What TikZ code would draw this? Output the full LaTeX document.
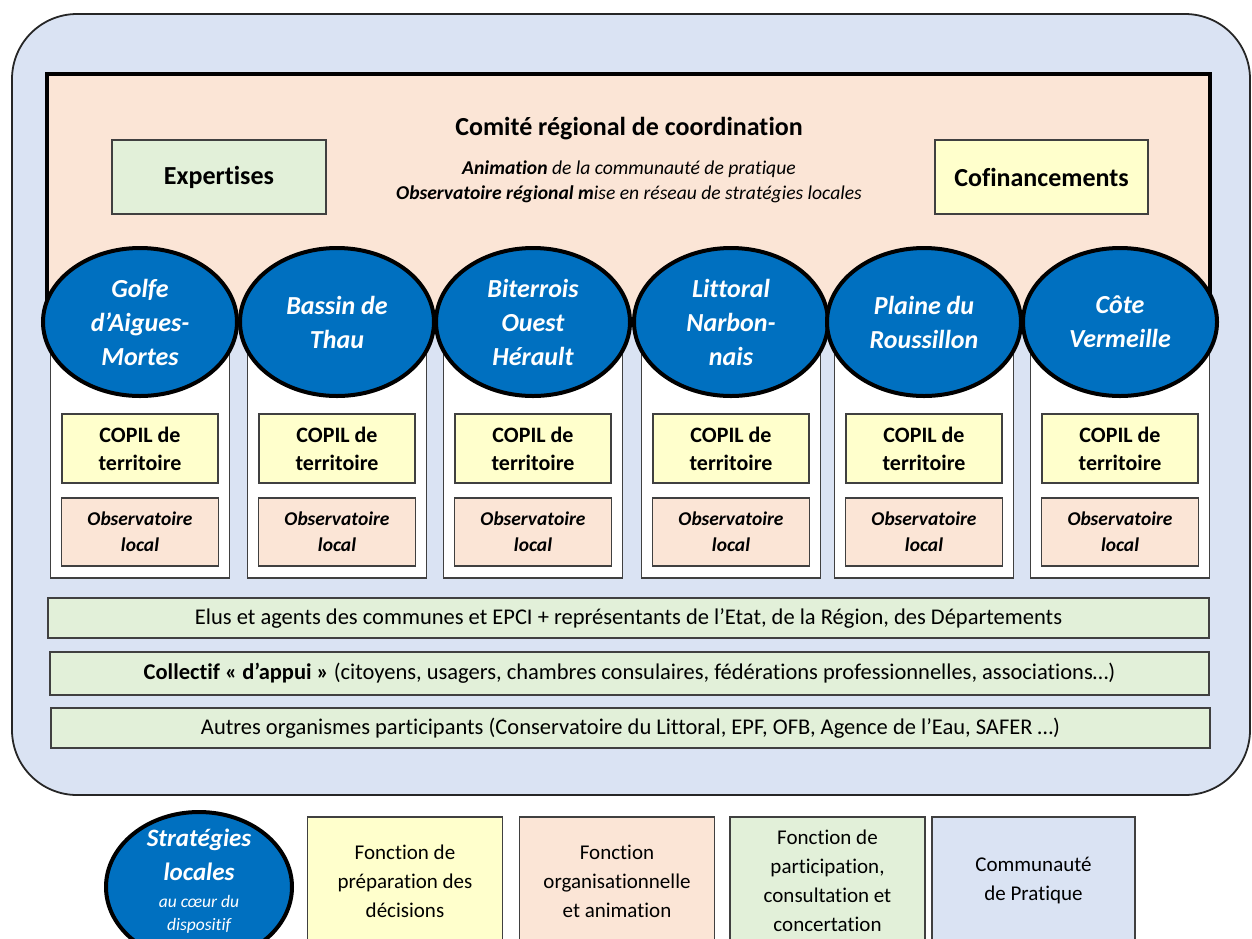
\documentclass[tikz,border=0pt]{standalone}
\usepackage{fontspec}
\setmainfont{Carlito}[Ligatures=NoCommon]
\usetikzlibrary{shapes.geometric}
\definecolor{cpblue}{HTML}{DAE3F3}
\definecolor{peach}{HTML}{FBE5D6}
\definecolor{lgreen}{HTML}{E2F0D9}
\definecolor{lyellow}{HTML}{FFFFCC}
\definecolor{ellblue}{HTML}{0070C0}
\definecolor{edgegray}{HTML}{404040}
\begin{document}
\begin{tikzpicture}[x=1pt,y=-1pt,
  fbox/.style={rectangle, draw=edgegray, line width=1.3pt, inner sep=0pt, align=center},
  ell/.style={ellipse, draw=black, line width=4pt, fill=ellblue, minimum width=194pt,
    minimum height=148pt, inner sep=0pt, text=white, align=center,
    font=\fontsize{26}{34}\selectfont\bfseries\itshape},
  colbox/.style={fbox, fill=white, minimum width=179pt, minimum height=248pt},
  copilbox/.style={fbox, fill=lyellow, minimum width=156pt, minimum height=69pt,
    font=\fontsize{22}{28}\selectfont\bfseries},
  obsbox/.style={fbox, fill=peach, minimum width=157pt, minimum height=68pt,
    font=\fontsize{19.5}{26}\selectfont\bfseries\itshape},
  barbox/.style={fbox, fill=lgreen, font=\fontsize{22.5}{27}\selectfont},
  legbox/.style={fbox, minimum width=195pt, minimum height=128pt,
    font=\fontsize{21}{29}\selectfont},
  txt/.style={inner sep=0pt, align=center}
]
\useasboundingbox (0,0) rectangle (1252,938);
\clip (0,0) rectangle (1252,938);

% outer community frame
\node[rectangle, draw=black!85, line width=1.8pt, fill=cpblue, rounded corners=65pt,
  minimum width=1238pt, minimum height=781pt] (outer) at (631,404.5) {};

% regional committee
\node[rectangle, draw=black, line width=4pt, fill=peach,
  minimum width=1163pt, minimum height=247pt] (comite) at (628.5,197.5) {};
\node[txt, font=\fontsize{26}{30}\selectfont\bfseries] (titre) at (629,129)
  {Comité régional de coordination};
\node[txt, font=\fontsize{19.6}{25}\selectfont\itshape] (soustitre) at (629,181.5)
  {\textbf{Animation} de la communauté de pratique\\
   \textbf{Observatoire régional m}ise en réseau de stratégies locales};
\node[fbox, fill=lgreen, minimum width=214pt, minimum height=74pt,
  font=\fontsize{26}{30}\selectfont\bfseries] (expert) at (219,177) {Expertises};
\node[fbox, fill=lyellow, minimum width=213pt, minimum height=74pt,
  font=\fontsize{26}{30}\selectfont\bfseries] (cofin) at (1041.5,177) {Cofinancements};

% territory columns
\foreach \cx/\i in {140/1,337/2,533/3,731/4,924/5,1120/6}{
  \node[colbox] (col\i) at (\cx,454) {};
  \node[copilbox] (copil\i) at (\cx,448.5) {COPIL de\\territoire};
  \node[obsbox] (obs\i) at (\cx,532) {Observatoire\\local};
}
\node[ell] (ell1) at (140,322) {Golfe\\d’Aigues-\\Mortes};
\node[ell] (ell2) at (337,322) {Bassin de\\Thau};
\node[ell] (ell3) at (533,322) {Biterrois\\Ouest\\Hérault};
\node[ell] (ell4) at (731,322) {Littoral\\Narbon-\\nais};
\node[ell] (ell5) at (924,322) {Plaine du\\Roussillon};
\node[ell] (ell6) at (1120,322) {Côte\\Vermeille};

% participation bars
\node[barbox, minimum width=1161pt, minimum height=40pt] (elus) at (628.5,618)
  {Elus et agents des communes et EPCI + représentants de l’Etat, de la Région, des Départements};
\node[barbox, minimum width=1159pt, minimum height=43pt] (collectif) at (629.5,673.5)
  {\textbf{Collectif « d’appui »} (citoyens, usagers, chambres consulaires, fédérations professionnelles, associations…)};
\node[barbox, minimum width=1159pt, minimum height=40pt] (autres) at (630.5,728)
  {Autres organismes participants (Conservatoire du Littoral, EPF, OFB, Agence de l’Eau, SAFER …)};

% legend
\node[ell, minimum width=186pt, minimum height=150pt] (leg0) at (199,887) {};
\node[txt, text=white, font=\fontsize{25}{34}\selectfont\bfseries\itshape] (leg0a) at (199,855)
  {Stratégies\\locales};
\node[txt, text=white, font=\fontsize{17.5}{23}\selectfont\itshape] (leg0b) at (199,914.5)
  {au cœur du\\dispositif};
\node[legbox, fill=lyellow] (leg1) at (405,881) {Fonction de\\préparation des\\décisions};
\node[legbox, fill=peach] (leg2) at (617,881) {Fonction\\organisationnelle\\et animation};
\node[legbox, fill=lgreen] (leg3) at (827.5,881) {Fonction de\\participation,\\consultation et\\concertation};
\node[legbox, fill=cpblue, minimum width=203pt] (leg4) at (1033.5,881) {Communauté\\de Pratique};
\end{tikzpicture}
\end{document}
